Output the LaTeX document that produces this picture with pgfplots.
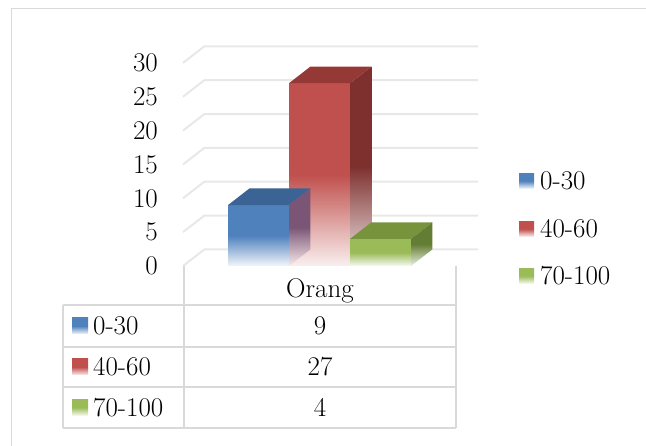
\documentclass[border=0pt]{standalone}
\usepackage{pgfplots}
\pgfplotsset{compat=1.18}

\definecolor{serA}{HTML}{4F81BD}
\definecolor{serAtop}{HTML}{3B6393}
\definecolor{serAside}{HTML}{7A5576}
\definecolor{serB}{HTML}{C0504D}
\definecolor{serBtop}{HTML}{953936}
\definecolor{serBside}{HTML}{7D302E}
\definecolor{serC}{HTML}{9BBB59}
\definecolor{serCtop}{HTML}{77933C}
\definecolor{serCside}{HTML}{647D34}
\definecolor{gridgray}{HTML}{E8E8E8}
\definecolor{rulegray}{HTML}{D9D9D9}
\colorlet{serAw}{serA!7!white}
\colorlet{serBw}{serB!9!white}
\colorlet{serCw}{serC!8!white}
\colorlet{serAsidew}{serB!12!white}
\colorlet{serBsidew}{serBside!12!white}
\colorlet{serCsidew}{serCside!12!white}

% vertical fades: the shaded path spans 25bp (bottom) to 75bp (top)
\pgfdeclareverticalshading{fadeA}{100bp}{color(0bp)=(serAw); color(25bp)=(serAw); color(50bp)=(serA); color(100bp)=(serA)}
\pgfdeclareverticalshading{fadeB}{100bp}{color(0bp)=(serBw); color(25bp)=(serBw); color(50bp)=(serB); color(100bp)=(serB)}
\pgfdeclareverticalshading{fadeC}{100bp}{color(0bp)=(serCw); color(25bp)=(serCw); color(50bp)=(serC); color(100bp)=(serC)}
\pgfdeclareverticalshading{sideA}{100bp}{color(0bp)=(serAsidew); color(25bp)=(serAsidew); color(50bp)=(serAside); color(100bp)=(serAside)}
\pgfdeclareverticalshading{sideB}{100bp}{color(0bp)=(serBsidew); color(25bp)=(serBsidew); color(50bp)=(serBside); color(100bp)=(serBside)}
\pgfdeclareverticalshading{sideC}{100bp}{color(0bp)=(serCsidew); color(25bp)=(serCsidew); color(50bp)=(serCside); color(100bp)=(serCside)}

\newcommand{\chartfont}{\fontsize{27}{32}\selectfont}

\begin{document}
\begin{tikzpicture}[x=1pt,y=1pt]
\path[use as bounding box] (0,0) rectangle (646,445);
% chart frame
\draw[rulegray, line width=1.6pt] (11.5,-5) -- (11.5,436.5) -- (660,436.5);

\begin{axis}[
  at={(183pt,179pt)}, anchor=south west,
  scale only axis, width=295.1pt, height=223.41pt,
  xmin=-0.738, xmax=4.1, ymin=0, ymax=33,
  enlargelimits=false,
  axis line style={draw=none},
  tick style={draw=none},
  xtick=\empty,
  ytick={0,5,...,30},
  tick label style={font=\chartfont},
  yticklabel style={anchor=east, inner sep=0pt, xshift=-25pt},
  /pgf/number format/assume math mode=true,
  clip=false,
]
% side and back walls
\draw[gridgray, line width=2pt] (axis cs:-0.738,0)  -- (axis cs:-0.388,2.45)  -- (axis cs:4.1,2.45);
\draw[gridgray, line width=2pt] (axis cs:-0.738,5)  -- (axis cs:-0.388,7.45)  -- (axis cs:4.1,7.45);
\draw[gridgray, line width=2pt] (axis cs:-0.738,10) -- (axis cs:-0.388,12.45) -- (axis cs:4.1,12.45);
\draw[gridgray, line width=2pt] (axis cs:-0.738,15) -- (axis cs:-0.388,17.45) -- (axis cs:4.1,17.45);
\draw[gridgray, line width=2pt] (axis cs:-0.738,20) -- (axis cs:-0.388,22.45) -- (axis cs:4.1,22.45);
\draw[gridgray, line width=2pt] (axis cs:-0.738,25) -- (axis cs:-0.388,27.45) -- (axis cs:4.1,27.45);
\draw[gridgray, line width=2pt] (axis cs:-0.738,30) -- (axis cs:-0.388,32.45) -- (axis cs:4.1,32.45);

% 40-60
\addplot[ybar, bar width=1, bar shift=0pt, draw=none, shading=fadeB] coordinates {(1.5,27)};
\addplot[draw=none, shading=sideB] coordinates {(2,0) (2.35,2.45) (2.35,29.45) (2,27)} -- cycle;
\addplot[draw=none, fill=serBtop] coordinates {(1,27) (2,27) (2.35,29.45) (1.35,29.45)} -- cycle;
% 0-30
\addplot[ybar, bar width=1, bar shift=0pt, draw=none, shading=fadeA] coordinates {(0.5,9)};
\addplot[draw=none, fill=serAtop] coordinates {(0,9) (1,9) (1.35,11.45) (0.35,11.45)} -- cycle;
\addplot[draw=none, shading=sideA] coordinates {(1,0) (1.35,2.45) (1.35,11.45) (1,9)} -- cycle;
% 70-100
\addplot[ybar, bar width=1, bar shift=0pt, draw=none, shading=fadeC] coordinates {(2.5,4)};
\addplot[draw=none, fill=serCtop] coordinates {(2,4) (3,4) (3.35,6.45) (2.35,6.45)} -- cycle;
\addplot[draw=none, shading=sideC] coordinates {(3,0) (3.35,2.45) (3.35,6.45) (3,4)} -- cycle;
\end{axis}

% data table
\draw[rulegray, line width=1.6pt] (184,179) -- (184,17) (456,179) -- (456,17)
  (63,140) -- (63,17)
  (63,140) -- (456,140) (63,98) -- (456,98) (63,58) -- (456,58) (63,17) -- (456,17);
\node[font=\chartfont, anchor=base] at (320,147) {Orang};

\shade[shading=fadeA] (72,111) rectangle (88,127);
\node[font=\chartfont, anchor=west, inner sep=0pt] at (93,119) {0-30};
\node[font=\chartfont] at (320,119) {9};
\shade[shading=fadeB] (72,70) rectangle (88,86);
\node[font=\chartfont, anchor=west, inner sep=0pt] at (93,78) {40-60};
\node[font=\chartfont] at (320,78) {27};
\shade[shading=fadeC] (72,29.5) rectangle (88,45.5);
\node[font=\chartfont, anchor=west, inner sep=0pt] at (93,37.5) {70-100};
\node[font=\chartfont] at (320,37.5) {4};

% legend
\shade[shading=fadeA] (519,256.5) rectangle (534,271.5);
\node[font=\chartfont, anchor=west, inner sep=0pt] at (540,264) {0-30};
\shade[shading=fadeB] (519,208.5) rectangle (534,223.5);
\node[font=\chartfont, anchor=west, inner sep=0pt] at (540,216) {40-60};
\shade[shading=fadeC] (519,161.5) rectangle (534,176.5);
\node[font=\chartfont, anchor=west, inner sep=0pt] at (540,169) {70-100};
\end{tikzpicture}
\end{document}
